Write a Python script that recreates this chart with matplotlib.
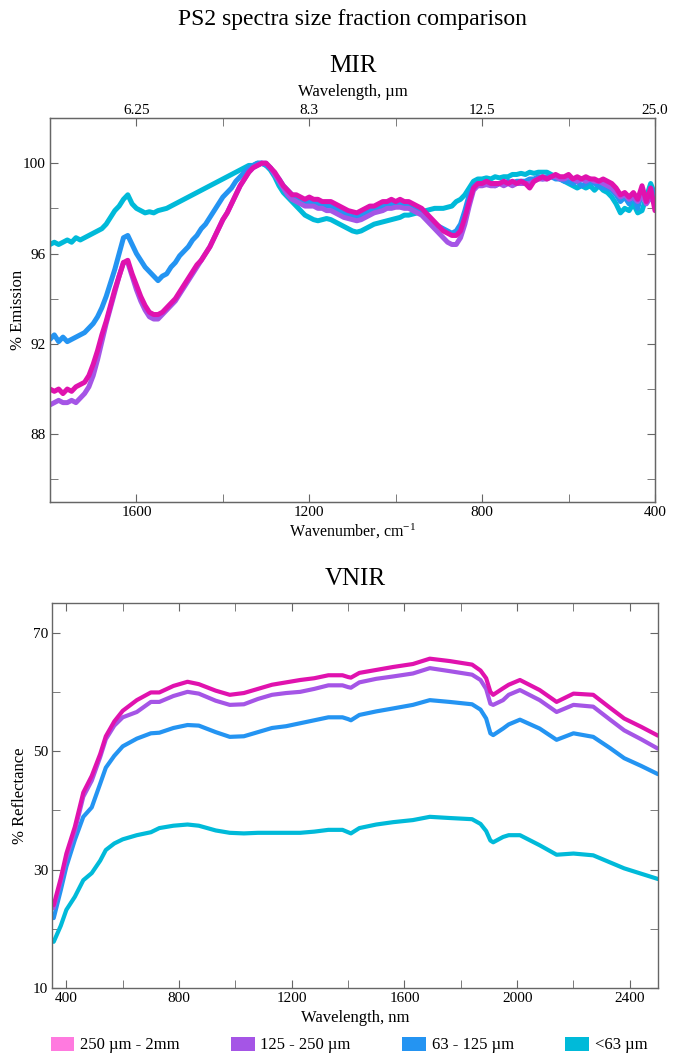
import numpy as np
import matplotlib
matplotlib.use("Agg")
import matplotlib.pyplot as plt
from matplotlib.patches import Patch

plt.rcParams['font.family'] = ['Liberation Serif', 'DejaVu Serif']
plt.rcParams['mathtext.fontset'] = 'stix'

labels = ["250 \u00b5m - 2mm", "125 - 250 \u00b5m", "63 - 125 \u00b5m", "<63 \u00b5m"]
line_colors = ["#E012AE", "#A555E6", "#2494F2", "#00BAD9"]
patch_colors = ["#FF7ADF", "#A555E6", "#2494F2", "#00BAD9"]

# ---------------- MIR data (wavenumber, cm-1) ----------------
mir_wn = np.arange(1800, 399, -10)

mir_250_2mm = [
    90.0, 89.9, 90.0, 89.8, 90.0, 89.9, 90.1, 90.2, 90.3, 90.6,
    91.1, 91.7, 92.4, 93.0, 93.7, 94.4, 95.0, 95.6, 95.7, 95.1,
    94.6, 94.1, 93.7, 93.4, 93.3, 93.3, 93.4, 93.6, 93.8, 94.0,
    94.3, 94.6, 94.9, 95.2, 95.5, 95.7, 96.0, 96.3, 96.7, 97.1,
    97.5, 97.8, 98.2, 98.6, 99.0, 99.3, 99.6, 99.8, 99.9, 100.0,
    100.0, 99.8, 99.6, 99.3, 99.0, 98.8, 98.6, 98.6, 98.5, 98.4,
    98.5, 98.4, 98.4, 98.3, 98.3, 98.3, 98.2, 98.1, 98.0, 97.9,
    97.85, 97.8, 97.9, 98.0, 98.1, 98.1, 98.2, 98.3, 98.3, 98.4,
    98.3, 98.4, 98.3, 98.3, 98.2, 98.1, 98.0, 97.8, 97.6, 97.4,
    97.2, 97.0, 96.9, 96.8, 96.8, 97.0, 97.6, 98.3, 98.9, 99.1,
    99.1, 99.2, 99.1, 99.1, 99.1, 99.2, 99.1, 99.2, 99.1, 99.2,
    99.1, 98.9, 99.2, 99.3, 99.4, 99.3, 99.4, 99.5, 99.4, 99.4,
    99.5, 99.3, 99.4, 99.3, 99.4, 99.3, 99.3, 99.2, 99.3, 99.2,
    99.1, 98.9, 98.6, 98.7, 98.5, 98.7, 98.4, 99.0, 98.3, 98.9,
    97.9]

mir_125_250 = [
    89.3, 89.4, 89.5, 89.4, 89.4, 89.5, 89.4, 89.6, 89.8, 90.1,
    90.6, 91.3, 92.1, 92.9, 93.6, 94.3, 95.0, 95.6, 95.6, 95.0,
    94.4, 93.9, 93.5, 93.2, 93.1, 93.1, 93.3, 93.5, 93.7, 93.9,
    94.2, 94.5, 94.8, 95.1, 95.4, 95.7, 96.0, 96.3, 96.7, 97.1,
    97.5, 97.8, 98.2, 98.6, 99.0, 99.3, 99.6, 99.8, 99.9, 100.0,
    100.0, 99.8, 99.5, 99.2, 98.9, 98.6, 98.4, 98.3, 98.2, 98.1,
    98.1, 98.1, 98.0, 98.0, 97.9, 97.9, 97.8, 97.7, 97.6, 97.55,
    97.5, 97.45, 97.5, 97.6, 97.7, 97.8, 97.85, 97.9, 98.0, 98.0,
    98.05, 98.05, 98.0, 98.0, 97.9, 97.8, 97.7, 97.5, 97.3, 97.1,
    96.9, 96.7, 96.5, 96.4, 96.4, 96.7, 97.3, 98.1, 98.8, 99.0,
    99.0, 99.05, 99.0, 99.0, 99.1, 99.0, 99.1, 99.0, 99.1, 99.1,
    99.1, 99.1, 99.2, 99.3, 99.3, 99.3, 99.4, 99.4, 99.3, 99.3,
    99.4, 99.3, 99.2, 99.3, 99.2, 99.3, 99.2, 99.2, 99.1, 99.0,
    98.9, 98.7, 98.5, 98.6, 98.4, 98.5, 98.3, 98.6, 98.2, 98.5,
    98.2]

mir_63_125 = [
    92.2, 92.4, 92.1, 92.3, 92.1, 92.2, 92.3, 92.4, 92.5, 92.7,
    92.9, 93.2, 93.6, 94.1, 94.7, 95.3, 96.0, 96.7, 96.8, 96.4,
    96.0, 95.7, 95.4, 95.2, 95.0, 94.8, 95.0, 95.1, 95.4, 95.6,
    95.9, 96.1, 96.3, 96.6, 96.8, 97.1, 97.3, 97.6, 97.9, 98.2,
    98.5, 98.7, 98.9, 99.2, 99.4, 99.6, 99.8, 99.9, 100.0, 100.0,
    99.9, 99.8, 99.5, 99.3, 99.0, 98.8, 98.6, 98.5, 98.4, 98.3,
    98.3, 98.3, 98.2, 98.2, 98.1, 98.1, 98.0, 97.9, 97.8, 97.7,
    97.65, 97.6, 97.7, 97.8, 97.9, 98.0, 98.0, 98.1, 98.1, 98.2,
    98.2, 98.2, 98.2, 98.1, 98.0, 97.9, 97.8, 97.6, 97.5, 97.3,
    97.2, 97.1, 97.0, 96.9, 97.0, 97.3, 97.9, 98.6, 99.0, 99.1,
    99.1, 99.1, 99.1, 99.0, 99.1, 99.1, 99.2, 99.1, 99.2, 99.2,
    99.2, 99.3, 99.3, 99.4, 99.3, 99.4, 99.4, 99.3, 99.3, 99.2,
    99.2, 99.1, 99.2, 99.0, 99.1, 99.2, 99.1, 99.0, 98.9, 98.9,
    98.8, 98.6, 98.3, 98.5, 98.2, 98.6, 98.0, 98.7, 98.3, 98.9,
    98.7]

mir_lt63 = [
    96.4, 96.5, 96.4, 96.5, 96.6, 96.5, 96.7, 96.6, 96.7, 96.8,
    96.9, 97.0, 97.1, 97.3, 97.6, 97.9, 98.1, 98.4, 98.6, 98.2,
    98.0, 97.9, 97.8, 97.85, 97.8, 97.9, 97.95, 98.0, 98.1, 98.2,
    98.3, 98.4, 98.5, 98.6, 98.7, 98.8, 98.9, 99.0, 99.1, 99.2,
    99.3, 99.4, 99.5, 99.6, 99.7, 99.8, 99.9, 99.9, 100.0, 100.0,
    99.9, 99.7, 99.4, 99.0, 98.7, 98.5, 98.3, 98.1, 97.9, 97.7,
    97.6, 97.5, 97.45, 97.5, 97.55, 97.5, 97.4, 97.3, 97.2, 97.1,
    97.0, 96.95, 97.0, 97.1, 97.2, 97.3, 97.35, 97.4, 97.45, 97.5,
    97.55, 97.6, 97.7, 97.7, 97.75, 97.8, 97.85, 97.9, 97.95, 98.0,
    98.0, 98.0, 98.05, 98.1, 98.3, 98.4, 98.6, 98.9, 99.2, 99.3,
    99.3, 99.35, 99.3, 99.4, 99.35, 99.4, 99.4, 99.5, 99.5, 99.55,
    99.5, 99.6, 99.55, 99.6, 99.6, 99.6, 99.5, 99.4, 99.3, 99.2,
    99.1, 99.0, 98.9, 99.0, 98.9, 99.0, 98.8, 99.0, 98.8, 98.7,
    98.5, 98.2, 97.8, 98.0, 97.9, 98.2, 97.8, 97.9, 98.5, 99.1,
    98.6]

mir_top_ticks = [1600, 1200, 800, 400]
mir_top_labels = ["6.25", "8.3", "12.5", "25.0"]

# ---------------- VNIR data (wavelength, nm) ----------------
vnir_nm = [355, 380, 400, 430, 460, 490, 520, 540, 570, 600, 650, 700, 730, 780,
           830, 870, 930, 980, 1030, 1080, 1130, 1180, 1230, 1280, 1330, 1380,
           1400, 1410, 1440, 1500, 1560, 1630, 1690, 1760, 1840, 1870, 1890,
           1905, 1915, 1950, 1970, 2010, 2080, 2140, 2200, 2270, 2330, 2380,
           2440, 2500]

vnir_250_2mm = [24.0, 28.5, 32.7, 37.2, 43.0, 45.8, 49.5, 52.5, 55.0, 56.8, 58.6,
                59.9, 59.9, 61.0, 61.7, 61.3, 60.2, 59.5, 59.8, 60.5, 61.2, 61.6,
                62.0, 62.3, 62.8, 62.8, 62.5, 62.4, 63.2, 63.7, 64.2, 64.7, 65.6,
                65.2, 64.6, 63.6, 62.3, 60.0, 59.5, 60.6, 61.2, 62.0, 60.3, 58.3,
                59.7, 59.5, 57.3, 55.5, 54.1, 52.6]
vnir_125_250 = [23.5, 28.0, 32.0, 36.5, 42.3, 45.0, 49.0, 52.0, 54.3, 55.7, 56.6,
                58.3, 58.3, 59.3, 60.0, 59.7, 58.5, 57.8, 57.9, 58.8, 59.5, 59.8,
                60.0, 60.5, 61.1, 61.1, 60.8, 60.7, 61.6, 62.2, 62.6, 63.1, 64.0,
                63.5, 62.9, 62.0, 60.5, 58.0, 57.8, 58.6, 59.5, 60.3, 58.6, 56.6,
                57.8, 57.5, 55.3, 53.5, 52.0, 50.4]
vnir_63_125 = [21.8, 26.5, 30.5, 35.0, 38.9, 40.5, 44.5, 47.2, 49.2, 50.8, 52.1,
               53.0, 53.1, 53.9, 54.4, 54.3, 53.2, 52.4, 52.5, 53.2, 53.9, 54.2,
               54.7, 55.2, 55.7, 55.7, 55.4, 55.2, 56.1, 56.7, 57.2, 57.8, 58.6,
               58.3, 57.9, 57.0, 55.5, 53.0, 52.7, 53.8, 54.5, 55.3, 53.8, 51.9,
               53.0, 52.4, 50.5, 48.8, 47.5, 46.1]
vnir_lt63 = [17.8, 20.5, 23.2, 25.4, 28.2, 29.4, 31.5, 33.3, 34.4, 35.1, 35.8,
             36.3, 37.0, 37.4, 37.6, 37.4, 36.6, 36.2, 36.1, 36.2, 36.2, 36.2,
             36.2, 36.4, 36.7, 36.7, 36.3, 36.1, 37.0, 37.6, 38.0, 38.35, 38.9,
             38.7, 38.5, 37.7, 36.5, 34.9, 34.6, 35.5, 35.8, 35.8, 34.1, 32.5,
             32.7, 32.4, 31.2, 30.2, 29.3, 28.4]

mir_series = [mir_250_2mm, mir_125_250, mir_63_125, mir_lt63]
vnir_series = [vnir_250_2mm, vnir_125_250, vnir_63_125, vnir_lt63]

W, H = 673, 1055
fig = plt.figure(figsize=(W / 100, H / 100), dpi=100)
spine_col = "#666666"
tick_fs = 11
label_fs = 12


def style_axes(ax):
    for s in ax.spines.values():
        s.set_color(spine_col)
        s.set_linewidth(1.0)
    ax.tick_params(which='both', direction='in', top=True, right=True,
                   color=spine_col, labelsize=tick_fs, pad=3, length=6)


# ---- MIR axes ----
mir_l, mir_r, mir_t, mir_b = 50, 655, 118, 502
ax1 = fig.add_axes([mir_l / W, 1 - mir_b / H, (mir_r - mir_l) / W, (mir_b - mir_t) / H])
for vals, c in list(zip(mir_series, line_colors))[::-1]:
    ax1.plot(mir_wn, vals, color=c, lw=3.6, solid_capstyle='round', solid_joinstyle='round')
ax1.set_xlim(1800, 400)
ax1.set_ylim(85, 102)
ax1.set_xticks([1600, 1200, 800, 400])
ax1.set_xticks([1400, 1000, 600], minor=True)
ax1.set_yticks([88, 92, 96, 100])
ax1.set_yticks([86, 90, 94, 98], minor=True)
style_axes(ax1)
ax1.tick_params(axis='x', top=False, which='both')
ax1.set_ylabel("% Emission", fontsize=label_fs)
ax1.yaxis.set_label_coords((26 - mir_l) / (mir_r - mir_l), 0.5)

axt = ax1.twiny()
axt.set_xlim(1800, 400)
axt.set_xticks(mir_top_ticks)
axt.set_xticklabels(mir_top_labels)
axt.set_xticks([1400, 1000, 600], minor=True)
for s in axt.spines.values():
    s.set_color(spine_col)
axt.tick_params(which='both', direction='in', length=6, color=spine_col,
                labelsize=tick_fs, pad=1)

cx1 = (mir_l + mir_r) / 2 / W
fig.text(cx1, 1 - 531 / H, "Wavenumber, cm$^{\\mathregular{-1}}$", ha='center', va='center', fontsize=11.5)
fig.text(cx1, 1 - 92 / H, "Wavelength, \u00b5m", ha='center', va='center', fontsize=label_fs)
fig.text(cx1, 1 - 66 / H, "MIR", ha='center', va='center', fontsize=18)
fig.text(cx1, 1 - 20 / H, "PS2 spectra size fraction comparison", ha='center', va='center', fontsize=17)

# ---- VNIR axes ----
v_l, v_r, v_t, v_b = 52.3, 658, 603, 988
ax2 = fig.add_axes([v_l / W, 1 - v_b / H, (v_r - v_l) / W, (v_b - v_t) / H])
for vals, c in list(zip(vnir_series, line_colors))[::-1]:
    ax2.plot(vnir_nm, vals, color=c, lw=3.0, solid_capstyle='round', solid_joinstyle='round')
ax2.set_xlim(350, 2500)
ax2.set_ylim(10, 75)
ax2.set_xticks([400, 800, 1200, 1600, 2000, 2400])
ax2.set_xticks([600, 1000, 1400, 1800, 2200], minor=True)
ax2.set_yticks([10, 30, 50, 70])
ax2.set_yticks([20, 40, 60], minor=True)
style_axes(ax2)
ax2.set_ylabel("% Reflectance", fontsize=label_fs)
ax2.yaxis.set_label_coords((28 - v_l) / (v_r - v_l), 0.5)

cx2 = (v_l + v_r) / 2 / W
fig.text(cx2, 1 - 1018 / H, "Wavelength, nm", ha='center', va='center', fontsize=label_fs)
fig.text(cx2, 1 - 579 / H, "VNIR", ha='center', va='center', fontsize=18)

handles = [Patch(facecolor=c, edgecolor='none') for c in patch_colors]
fig.legend(handles, labels, loc='center', bbox_to_anchor=(349 / W, 1 - 1045 / H), ncol=4,
           frameon=False, fontsize=12, handlelength=1.4, handleheight=0.95,
           handletextpad=0.35, columnspacing=3.1, borderaxespad=0, borderpad=0)

fig.savefig("out.png", dpi=100)
